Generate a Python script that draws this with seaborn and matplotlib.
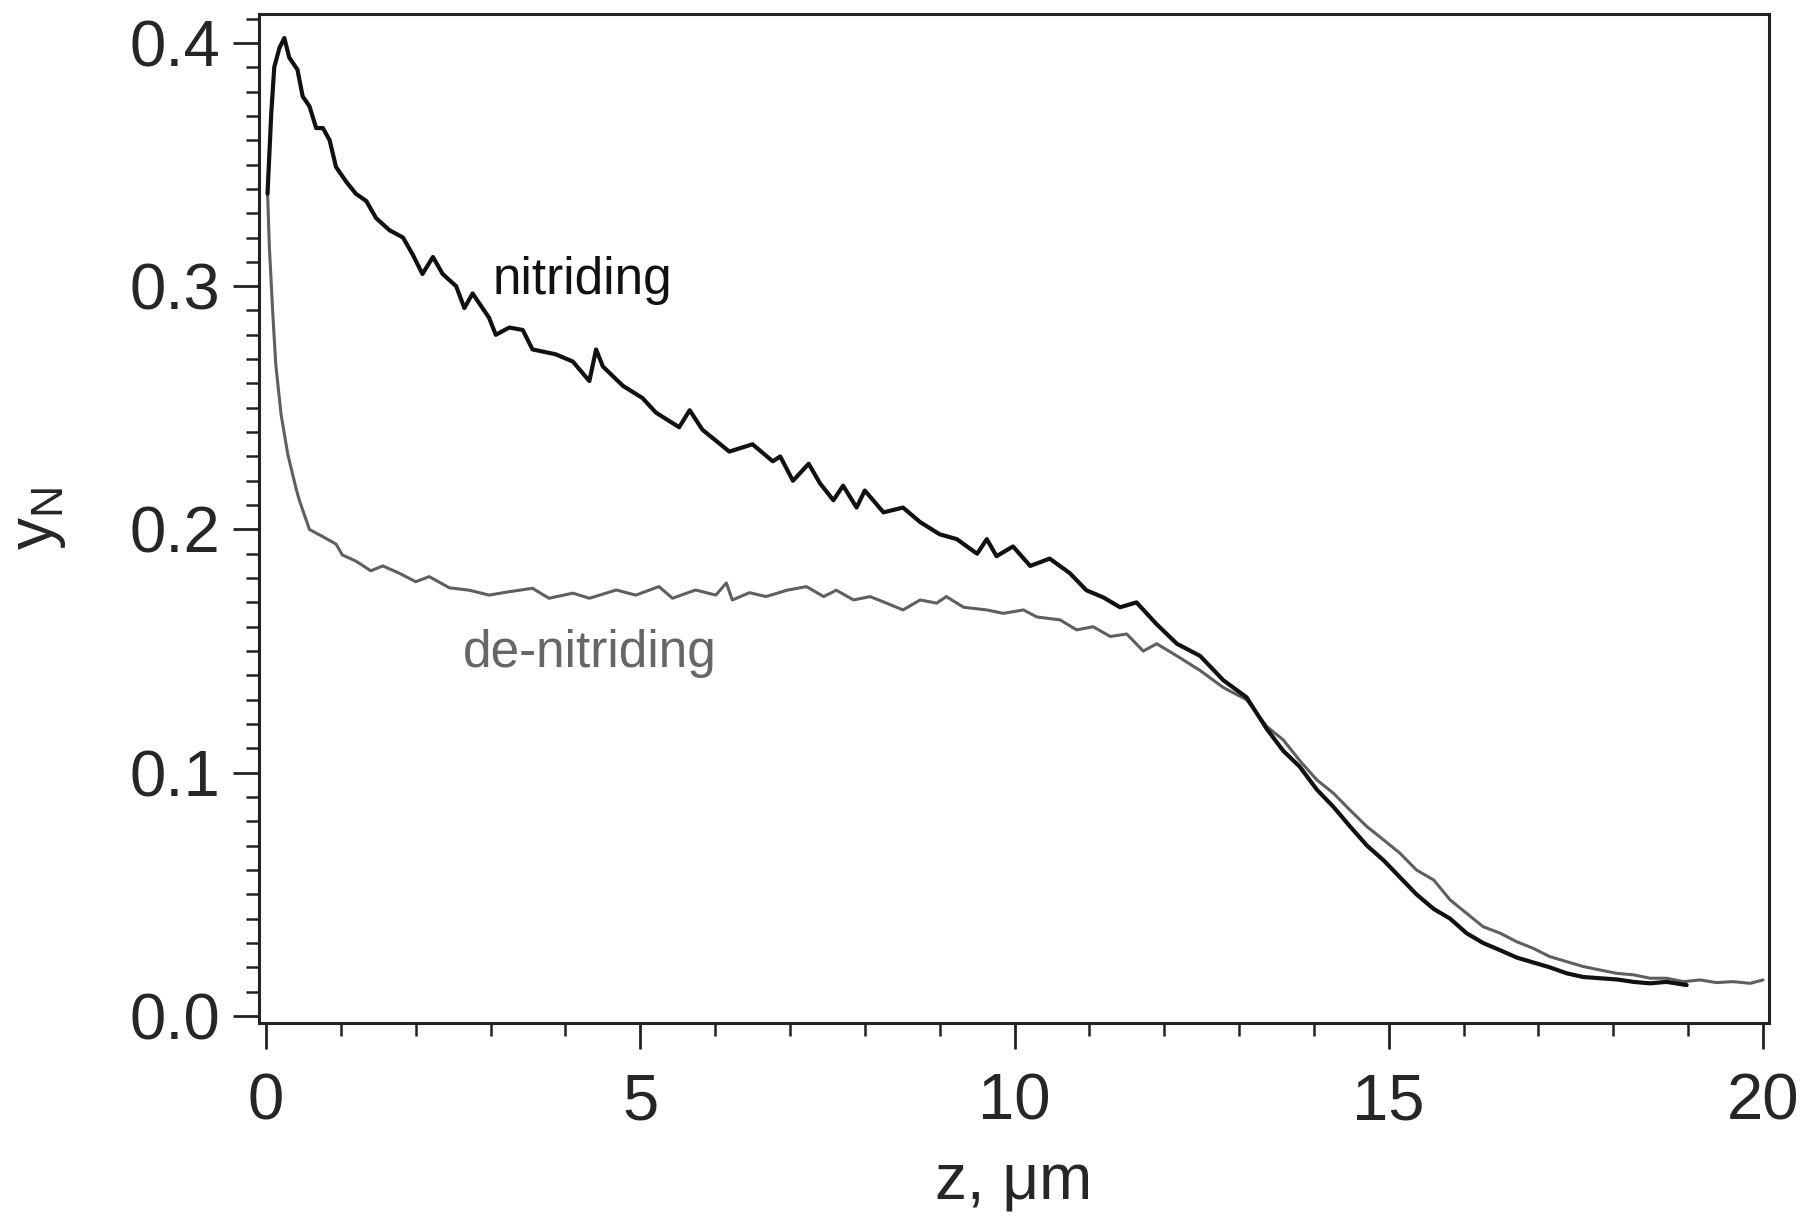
import numpy as np
import pandas as pd
import seaborn as sns
import matplotlib.pyplot as plt
from matplotlib.ticker import MultipleLocator

# nitriding profile (depth in um, nitrogen fraction)
z_nit = [0.02, 0.07, 0.11, 0.18, 0.245, 0.31, 0.42, 0.49, 0.58, 0.67, 0.76, 0.85,
         0.935, 1.07, 1.20, 1.34, 1.47, 1.65, 1.83, 1.96, 2.09, 2.23, 2.36, 2.54,
         2.65, 2.76, 2.98, 3.07, 3.25, 3.43, 3.56, 3.87, 4.10, 4.32, 4.41, 4.50,
         4.77, 5.03, 5.21, 5.52, 5.66, 5.83, 6.19, 6.50, 6.77, 6.87, 7.04, 7.25,
         7.40, 7.58, 7.71, 7.89, 8.00, 8.25, 8.51, 8.74, 9.00, 9.23, 9.50, 9.63,
         9.76, 9.98, 10.21, 10.47, 10.74, 10.96, 11.19, 11.41, 11.63, 11.90, 12.17,
         12.48, 12.79, 13.10, 13.37, 13.59, 13.81, 14.04, 14.26, 14.48, 14.71,
         14.93, 15.15, 15.37, 15.60, 15.82, 16.04, 16.26, 16.49, 16.71, 16.93,
         17.15, 17.38, 17.60, 17.82, 18.05, 18.27, 18.49, 18.71, 18.98]
y_nit = [0.338, 0.371, 0.390, 0.398, 0.402, 0.394, 0.389, 0.378, 0.374, 0.365, 0.365, 0.360,
         0.349, 0.343, 0.338, 0.335, 0.328, 0.323, 0.320, 0.313, 0.305, 0.312, 0.305, 0.300,
         0.291, 0.297, 0.287, 0.280, 0.283, 0.282, 0.274, 0.272, 0.269, 0.261, 0.274, 0.267,
         0.259, 0.254, 0.248, 0.242, 0.249, 0.241, 0.232, 0.235, 0.228, 0.230, 0.220, 0.227,
         0.219, 0.212, 0.218, 0.209, 0.216, 0.207, 0.209, 0.203, 0.198, 0.196, 0.190, 0.196,
         0.189, 0.193, 0.185, 0.188, 0.182, 0.175, 0.172, 0.168, 0.170, 0.161, 0.153,
         0.148, 0.138, 0.131, 0.118, 0.109, 0.1025, 0.093, 0.086, 0.078, 0.070,
         0.064, 0.057, 0.050, 0.044, 0.040, 0.034, 0.030, 0.027, 0.024, 0.022,
         0.020, 0.0175, 0.016, 0.0155, 0.015, 0.014, 0.0134, 0.014, 0.0127]

# de-nitriding profile
z_den = [0.02, 0.045, 0.09, 0.13, 0.20, 0.29, 0.40, 0.445, 0.58, 0.76, 0.935, 1.02,
         1.20, 1.40, 1.56, 1.78, 2.00, 2.18, 2.45, 2.72, 2.98, 3.25, 3.56, 3.78,
         4.10, 4.32, 4.68, 4.94, 5.25, 5.43, 5.74, 6.01, 6.15, 6.23, 6.46, 6.68,
         6.96, 7.22, 7.45, 7.62, 7.85, 8.07, 8.29, 8.51, 8.74, 8.96, 9.09, 9.32,
         9.63, 9.85, 10.12, 10.30, 10.61, 10.83, 11.05, 11.28, 11.50, 11.72, 11.90,
         12.17, 12.48, 12.79, 13.10, 13.37, 13.59, 13.81, 14.04, 14.26, 14.48,
         14.71, 14.93, 15.15, 15.37, 15.60, 15.82, 16.04, 16.26, 16.49, 16.71,
         16.93, 17.15, 17.38, 17.60, 17.82, 18.05, 18.27, 18.49, 18.71, 18.94,
         19.16, 19.38, 19.60, 19.83, 20.0]
y_den = [0.339, 0.316, 0.289, 0.268, 0.2475, 0.231, 0.217, 0.212, 0.200, 0.197, 0.194, 0.1895,
         0.187, 0.183, 0.185, 0.182, 0.1785, 0.1806, 0.176, 0.175, 0.173, 0.1744, 0.1758, 0.1717,
         0.1738, 0.1717, 0.1751, 0.173, 0.1765, 0.1717, 0.1751, 0.173, 0.178, 0.171, 0.174, 0.1724,
         0.175, 0.1765, 0.1724, 0.175, 0.171, 0.1724, 0.1697, 0.1669, 0.171, 0.1697, 0.1724, 0.168,
         0.1669, 0.1655, 0.1669, 0.164, 0.1628, 0.1587, 0.160, 0.156, 0.157, 0.150, 0.153,
         0.148, 0.142, 0.135, 0.130, 0.119, 0.1135, 0.105, 0.097, 0.0916, 0.0847,
         0.0778, 0.0724, 0.0669, 0.060, 0.0559, 0.0477, 0.0422, 0.0367, 0.034, 0.0305,
         0.0278, 0.0244, 0.0223, 0.0203, 0.0189, 0.0175, 0.0169, 0.0155, 0.0155, 0.0141,
         0.0148, 0.0137, 0.0141, 0.0134, 0.0148]

sns.set_style("ticks")
plt.rcParams['font.family'] = ['Liberation Sans', 'DejaVu Sans']
plt.rcParams['mathtext.fontset'] = 'custom'
plt.rcParams['mathtext.rm'] = 'Liberation Sans'
plt.rcParams['mathtext.it'] = 'Liberation Sans'

df_nit = pd.DataFrame({"z": z_nit, "y": y_nit})
df_den = pd.DataFrame({"z": z_den, "y": y_den})

fig = plt.figure(figsize=(18.06, 12.25), dpi=100)
ax = fig.add_axes([0.1434, 0.1649, 0.8361, 0.8237])

sns.lineplot(data=df_den, x="z", y="y", sort=False, estimator=None,
             color="#5f5f5f", linewidth=2.2, ax=ax)
sns.lineplot(data=df_nit, x="z", y="y", sort=False, estimator=None,
             color="#111111", linewidth=3.0, ax=ax)

ax.set_xlim(-0.094, 20.08)
ax.set_ylim(-0.0029, 0.4119)
ax.xaxis.set_major_locator(MultipleLocator(5))
ax.xaxis.set_minor_locator(MultipleLocator(1))
ax.yaxis.set_major_locator(MultipleLocator(0.1))
ax.yaxis.set_minor_locator(MultipleLocator(0.01))
ax.yaxis.set_major_formatter(plt.FormatStrFormatter('%.1f'))

ax.tick_params(which='major', direction='out', length=19, width=2.0, color='#222222',
               labelsize=47, top=False, right=False)
ax.tick_params(which='minor', direction='out', length=9.5, width=1.8, color='#222222',
               top=False, right=False)
ax.tick_params(axis='x', which='major', pad=17)
ax.tick_params(axis='y', which='major', pad=9)

for sp in ax.spines.values():
    sp.set_linewidth(2.2)
    sp.set_color('#222222')

ax.set_xlabel("z, μm", fontsize=46, labelpad=14)
ax.set_ylabel(r"y$_\mathregular{N}$", fontsize=46, labelpad=44)

ax.text(3.03, 0.2968, "nitriding", fontsize=37, color="#111111", ha="left", va="baseline")
ax.text(2.63, 0.1436, "de-nitriding", fontsize=37, color="#666666", ha="left", va="baseline")

fig.savefig("out.png", dpi=100)
